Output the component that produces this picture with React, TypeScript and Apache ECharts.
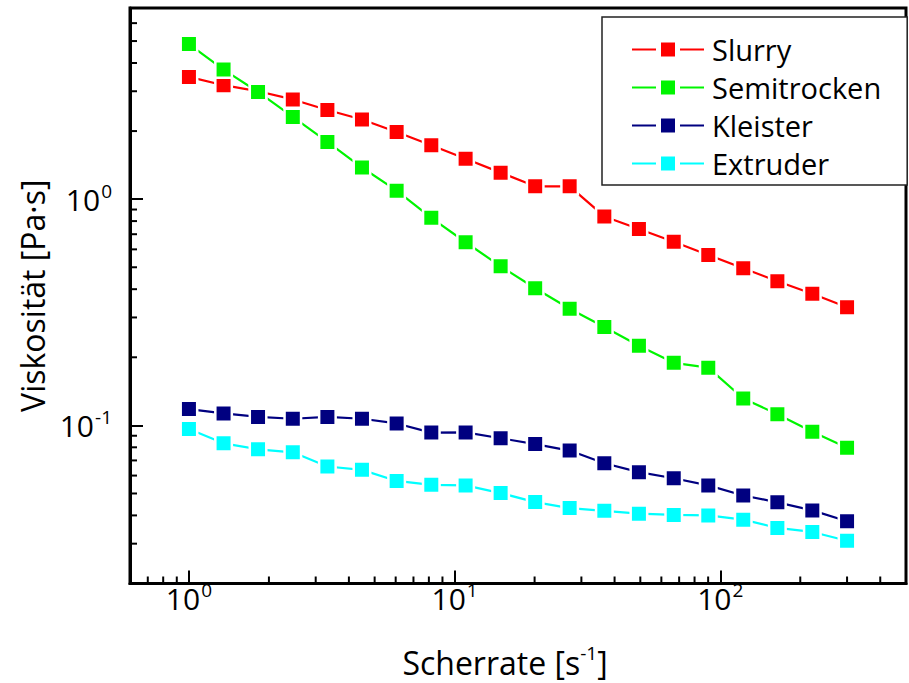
import React, { useEffect, useRef } from "react";
import * as echarts from "echarts";

const shearRate = [1, 1.35, 1.82, 2.46, 3.32, 4.48, 6.05, 8.17, 11.0, 14.9, 20.1, 27.1, 36.6, 49.4, 66.8, 90.1, 122, 164, 222, 300];
const slurry = [3.47, 3.19, 3.0, 2.76, 2.48, 2.25, 1.98, 1.73, 1.51, 1.31, 1.14, 1.14, 0.839, 0.738, 0.648, 0.567, 0.495, 0.434, 0.382, 0.333];
const semitrocken = [4.85, 3.74, 2.98, 2.31, 1.79, 1.38, 1.09, 0.827, 0.645, 0.505, 0.404, 0.328, 0.272, 0.225, 0.189, 0.18, 0.1315, 0.112, 0.0938, 0.0797];
const kleister = [0.118, 0.113, 0.109, 0.107, 0.109, 0.107, 0.102, 0.0929, 0.0931, 0.0877, 0.0827, 0.0774, 0.068, 0.0621, 0.0584, 0.0543, 0.049, 0.0457, 0.0421, 0.0377];
const extruder = [0.0963, 0.0833, 0.0784, 0.076, 0.0658, 0.0636, 0.0568, 0.0546, 0.0543, 0.0502, 0.0458, 0.0431, 0.0419, 0.0407, 0.0402, 0.04, 0.0383, 0.0352, 0.0338, 0.0309];

const seriesNames = ["Slurry", "Semitrocken", "Kleister", "Extruder"];
const seriesColors = ["#ff0000", "#00f500", "#000080", "#00ffff"];

const xMin = 0.6;
const xMax = 500;
const yMin = 0.02;
const yMax = 7;
const xMinorTicks = [0.7, 0.8, 0.9, 2, 3, 4, 5, 6, 7, 8, 9, 20, 30, 40, 50, 60, 70, 80, 90, 200, 300, 400];
const yMinorTicks = [0.03, 0.04, 0.05, 0.06, 0.07, 0.08, 0.09, 0.2, 0.3, 0.4, 0.5, 0.6, 0.7, 0.8, 0.9, 2, 3, 4, 5, 6];

const FONT = "Open Sans";

function powLabel(v: number) {
  const e = Math.log10(v);
  if (Math.abs(e - Math.round(e)) < 1e-6) {
    return `{b|10}{s|${Math.round(e)}}`;
  }
  return "";
}

const labelRich = {
  b: { fontSize: 30, fontFamily: FONT, color: "#000" },
  s: { fontSize: 19, fontFamily: FONT, color: "#000", padding: [0, 0, 17, 1] },
};

export default function App() {
  const ref = useRef<HTMLDivElement>(null);
  useEffect(() => {
    if (!ref.current) return;
    const chart = echarts.init(ref.current, null, { renderer: "svg" });
    const datasets = [slurry, semitrocken, kleister, extruder];
    const lineSeries = datasets.map((vals, i) => ({
      name: seriesNames[i],
      type: "line",
      data: shearRate.map((x, j) => [x, vals[j]]),
      symbol: "rect",
      symbolSize: 16.5,
      showSymbol: true,
      itemStyle: { color: seriesColors[i], borderColor: "#ffffff", borderWidth: 2.5 },
      lineStyle: { color: seriesColors[i], width: 2.2 },
      z: 3,
    }));
    const xTickSeries = {
      type: "custom",
      silent: true,
      z: 5,
      data: xMinorTicks.map((v) => [v, yMin]),
      renderItem: (params: any, api: any) => {
        const p = api.coord([api.value(0), api.value(1)]);
        return {
          type: "line",
          shape: { x1: p[0], y1: p[1], x2: p[0], y2: p[1] - 7 },
          style: { stroke: "#000", lineWidth: 2 },
        };
      },
    };
    const yTickSeries = {
      type: "custom",
      silent: true,
      z: 5,
      data: yMinorTicks.map((v) => [xMin, v]),
      renderItem: (params: any, api: any) => {
        const p = api.coord([api.value(0), api.value(1)]);
        return {
          type: "line",
          shape: { x1: p[0], y1: p[1], x2: p[0] + 7, y2: p[1] },
          style: { stroke: "#000", lineWidth: 2 },
        };
      },
    };
    chart.setOption({
      animation: false,
      backgroundColor: "#ffffff",
      textStyle: { fontFamily: FONT },
      grid: {
        left: 130,
        top: 8,
        right: -5,
        bottom: 97,
        show: true,
        borderColor: "#000",
        borderWidth: 3,
        backgroundColor: "transparent",
      },
      legend: {
        data: seriesNames,
        orient: "vertical",
        left: 602,
        top: 17,
        itemWidth: 72,
        itemHeight: 23.75,
        itemGap: 9,
        padding: [18, 26, 7, 29],
        backgroundColor: "#fff",
        borderColor: "#222",
        borderWidth: 1.5,
        itemStyle: { borderColor: "#ffffff", borderWidth: 5 },
        textStyle: { fontSize: 29, fontFamily: FONT, color: "#000", padding: [0, 0, 0, 3] },
      },
      xAxis: {
        type: "log",
        logBase: 10,
        min: xMin,
        max: xMax,
        name: "{t|Scherrate [s}{s|-1}{t|]}",
        nameLocation: "middle",
        nameGap: 60,
        nameTextStyle: {
          padding: [0, 26, 0, 0],
          rich: {
            t: { fontSize: 32, fontFamily: FONT, color: "#000" },
            s: { fontSize: 19, fontFamily: FONT, color: "#000", padding: [0, 0, 18, 0] },
          },
        },
        axisLine: { show: true, lineStyle: { color: "#000", width: 3 } },
        axisTick: { show: true, inside: true, length: 13, lineStyle: { color: "#000", width: 2 } },
        axisLabel: { formatter: powLabel, rich: labelRich, margin: -3, color: "#000" },
        splitLine: { show: false },
        minorTick: { show: false },
      },
      yAxis: {
        type: "log",
        logBase: 10,
        min: yMin,
        max: yMax,
        name: "Viskosität [Pa·s]",
        nameLocation: "middle",
        nameGap: 74,
        nameTextStyle: { fontSize: 32, fontFamily: FONT, color: "#000" },
        axisLine: { show: true, lineStyle: { color: "#000", width: 3 } },
        axisTick: { show: true, inside: true, length: 13, lineStyle: { color: "#000", width: 2 } },
        axisLabel: { formatter: powLabel, rich: labelRich, margin: 18, color: "#000" },
        splitLine: { show: false },
      },
      series: [...lineSeries, xTickSeries, yTickSeries],
    });
    return () => chart.dispose();
  }, []);
  return <div ref={ref} style={{ position: "absolute", left: 0, top: 0, width: 909, height: 683 }} />;
}
